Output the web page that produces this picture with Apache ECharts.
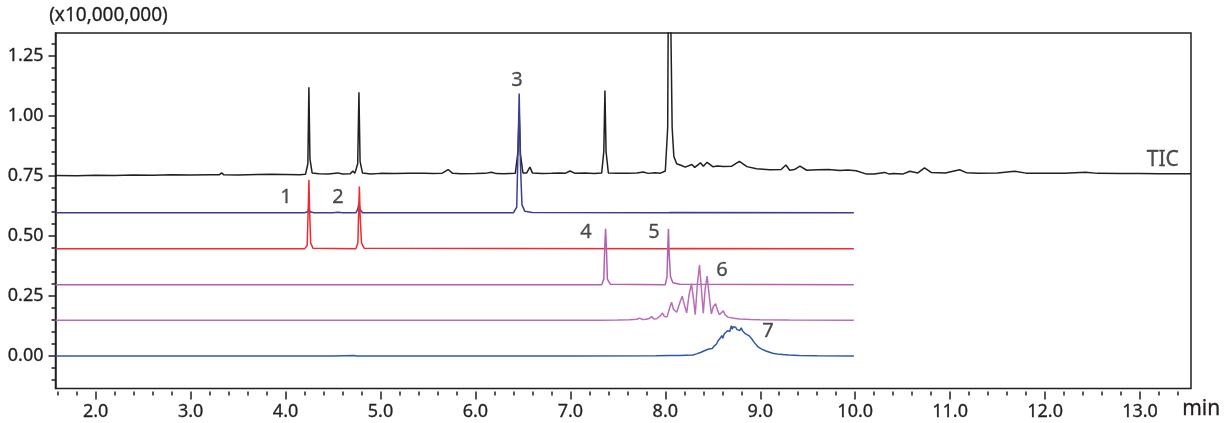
<!DOCTYPE html>
<html>
<head>
<meta charset="utf-8">
<script src="https://cdn.jsdelivr.net/npm/echarts@6/dist/echarts.min.js"></script>
<style>
html,body{margin:0;padding:0;background:#fff;}
#chart{width:1230px;height:423px;}
</style>
</head>
<body>
<div id="chart"></div>
<script>
// ---- axis ticks ----
var xMajorTicks = [2,3,4,5,6,7,8,9,10,11,12,13];
var xMinorTicks = [1.6,1.8,2.2,2.4,2.6,2.8,3.2,3.4,3.6,3.8,4.2,4.4,4.6,4.8,5.2,5.4,5.6,5.8,6.2,6.4,6.6,6.8,7.2,7.4,7.6,7.8,8.2,8.4,8.6,8.8,9.2,9.4,9.6,9.8,10.2,10.4,10.6,10.8,11.2,11.4,11.6,11.8,12.2,12.4,12.6,12.8,13.2,13.4];
var yMajorTicks = [0,0.25,0.5,0.75,1.0,1.25];
var yMinorTicks = [-0.10,-0.05,0.05,0.10,0.15,0.20,0.30,0.35,0.40,0.45,0.55,0.60,0.65,0.70,0.80,0.85,0.90,0.95,1.05,1.10,1.15,1.20,1.30];

// ---- traces: [time (min), intensity (x10,000,000, offset as drawn)] ----
var ticTrace = [[1.577,0.751],[1.8,0.750],[2.0,0.752],[2.2,0.751],[2.4,0.753],[2.6,0.752],[2.8,0.754],[3.0,0.753],[3.2,0.754],[3.30,0.754],[3.327,0.762],[3.35,0.754],[3.5,0.753],[3.7,0.755],[3.85,0.756],[4.0,0.755],[4.15,0.754],[4.21,0.756],[4.235,0.80],[4.246,1.118],[4.257,0.82],[4.28,0.762],[4.35,0.758],[4.45,0.757],[4.55,0.762],[4.6,0.757],[4.68,0.758],[4.71,0.770],[4.73,0.760],[4.76,0.80],[4.773,1.097],[4.785,0.81],[4.81,0.762],[4.9,0.757],[5.0,0.760],[5.15,0.759],[5.3,0.760],[5.47,0.761],[5.55,0.759],[5.65,0.761],[5.713,0.776],[5.76,0.760],[5.85,0.758],[6.0,0.759],[6.1,0.760],[6.17,0.765],[6.22,0.759],[6.30,0.758],[6.42,0.760],[6.448,0.85],[6.461,1.015],[6.474,0.84],[6.50,0.762],[6.54,0.762],[6.574,0.786],[6.60,0.762],[6.70,0.759],[6.80,0.760],[6.89,0.762],[6.95,0.761],[6.995,0.770],[7.05,0.760],[7.16,0.762],[7.25,0.759],[7.33,0.762],[7.352,0.85],[7.364,1.105],[7.376,0.85],[7.40,0.762],[7.5,0.760],[7.6,0.761],[7.7,0.762],[7.767,0.766],[7.82,0.760],[7.89,0.763],[7.95,0.761],[8.00,0.770],[8.025,0.95],[8.038,2.0],[8.058,2.0],[8.072,0.95],[8.09,0.83],[8.12,0.800],[8.17,0.793],[8.21,0.786],[8.28,0.797],[8.31,0.785],[8.37,0.804],[8.40,0.790],[8.44,0.806],[8.50,0.788],[8.55,0.791],[8.61,0.789],[8.70,0.790],[8.78,0.810],[8.86,0.788],[8.96,0.779],[9.10,0.775],[9.22,0.776],[9.27,0.795],[9.31,0.773],[9.36,0.776],[9.418,0.790],[9.49,0.773],[9.60,0.775],[9.72,0.776],[9.84,0.772],[9.92,0.774],[10.01,0.771],[10.12,0.757],[10.2,0.757],[10.31,0.764],[10.36,0.757],[10.40,0.759],[10.5,0.757],[10.575,0.769],[10.66,0.762],[10.73,0.783],[10.80,0.764],[10.95,0.762],[11.10,0.775],[11.17,0.763],[11.3,0.761],[11.5,0.762],[11.68,0.769],[11.8,0.761],[12.0,0.760],[12.2,0.760],[12.43,0.765],[12.55,0.760],[12.8,0.759],[13.0,0.759],[13.2,0.758],[13.47,0.758],[13.537,0.758]];

var trace3 = [[1.577,0.596],[4.20,0.596],[4.235,0.600],[4.246,0.618],[4.257,0.600],[4.30,0.596],[4.50,0.596],[4.55,0.598],[4.60,0.596],[4.74,0.596],[4.76,0.610],[4.773,0.636],[4.785,0.610],[4.81,0.596],[6.40,0.596],[6.435,0.620],[6.448,0.85],[6.461,1.092],[6.474,0.80],[6.49,0.630],[6.52,0.602],[6.60,0.597],[8.02,0.596],[8.04,0.604],[8.06,0.597],[9.986,0.596]];

var trace12 = [[1.577,0.446],[4.20,0.446],[4.228,0.460],[4.238,0.600],[4.246,0.733],[4.254,0.600],[4.265,0.470],[4.29,0.448],[4.74,0.446],[4.762,0.470],[4.770,0.600],[4.778,0.705],[4.786,0.580],[4.80,0.470],[4.83,0.448],[8.02,0.446],[8.04,0.454],[8.06,0.447],[9.986,0.446]];

var trace45 = [[1.577,0.297],[4.76,0.297],[4.778,0.305],[4.80,0.297],[7.33,0.297],[7.352,0.320],[7.362,0.450],[7.371,0.529],[7.380,0.450],[7.39,0.320],[7.42,0.299],[8.00,0.297],[8.018,0.330],[8.026,0.450],[8.033,0.529],[8.041,0.420],[8.055,0.330],[8.08,0.305],[8.15,0.299],[9.986,0.297]];

var trace6 = [[1.577,0.149],[4.68,0.149],[4.70,0.156],[4.72,0.149],[7.30,0.149],[7.50,0.150],[7.62,0.151],[7.70,0.153],[7.73,0.158],[7.76,0.152],[7.80,0.153],[7.83,0.156],[7.856,0.164],[7.88,0.154],[7.91,0.155],[7.95,0.168],[7.97,0.179],[7.99,0.165],[8.02,0.164],[8.045,0.200],[8.066,0.224],[8.085,0.195],[8.12,0.182],[8.155,0.225],[8.178,0.249],[8.20,0.215],[8.225,0.180],[8.25,0.255],[8.275,0.300],[8.295,0.245],[8.315,0.172],[8.338,0.300],[8.360,0.379],[8.38,0.280],[8.40,0.178],[8.42,0.280],[8.44,0.333],[8.46,0.260],[8.485,0.175],[8.505,0.205],[8.53,0.218],[8.55,0.190],[8.57,0.172],[8.59,0.180],[8.61,0.188],[8.63,0.172],[8.66,0.162],[8.72,0.157],[8.78,0.154],[8.90,0.152],[9.00,0.151],[9.30,0.150],[9.986,0.149]];

var trace7 = [[1.577,0.0],[4.50,0.0],[4.72,0.002],[4.75,0.0],[7.00,0.0],[7.90,0.001],[8.05,0.002],[8.15,0.002],[8.29,0.004],[8.33,0.009],[8.37,0.015],[8.40,0.020],[8.43,0.025],[8.46,0.029],[8.48,0.034],[8.495,0.031],[8.51,0.040],[8.525,0.036],[8.54,0.050],[8.555,0.064],[8.565,0.058],[8.58,0.075],[8.595,0.085],[8.605,0.074],[8.62,0.092],[8.63,0.099],[8.64,0.088],[8.655,0.105],[8.67,0.112],[8.68,0.103],[8.695,0.126],[8.705,0.112],[8.715,0.122],[8.725,0.114],[8.74,0.120],[8.755,0.110],[8.77,0.115],[8.785,0.106],[8.80,0.117],[8.815,0.104],[8.83,0.099],[8.845,0.092],[8.86,0.094],[8.88,0.085],[8.895,0.087],[8.91,0.072],[8.93,0.060],[8.955,0.048],[8.98,0.037],[9.02,0.028],[9.06,0.021],[9.13,0.012],[9.20,0.007],[9.30,0.004],[9.41,0.002],[9.60,0.001],[9.986,0.0]];

// ---- peak annotations ----
var peakLabelText = ['1','2','3','4','5','6','7','TIC'];
var peakLabelX = [4.004,4.551,6.437,7.164,7.880,8.596,9.080,13.24];
var peakLabelY = [0.660,0.660,1.147,0.514,0.514,0.355,0.105,0.814];

var FONT = '"Noto Sans", "Open Sans", sans-serif';
var INK = '#231f20';
var TXT = {color: INK, fontFamily: FONT, textBorderColor: INK, textBorderWidth: 0.3};

function lineSeries(name, data, color) {
  return {
    name: name, type: 'line', data: data, xAxisIndex: 0, yAxisIndex: 0,
    showSymbol: false, symbol: 'none', clip: true,
    lineStyle: {color: color, width: 1.5}, z: 3
  };
}

var labelData = peakLabelText.map(function (t, i) {
  return {
    name: t, value: [peakLabelX[i], peakLabelY[i]],
    label: {fontSize: t === 'TIC' ? 21 : 20}
  };
});

var chart = echarts.init(document.getElementById('chart'), null, {renderer: 'canvas'});
chart.setOption({
  animation: false,
  backgroundColor: '#fff',
  grid: {left: 55.5, top: 33, right: 39, bottom: 34.5, show: true,
         borderColor: INK, borderWidth: 1.5, backgroundColor: 'transparent'},
  xAxis: [{
    type: 'value', min: 1.577, max: 13.537, position: 'bottom', offset: 3,
    axisLine: {show: false, onZero: false},
    axisTick: {show: true, customValues: xMajorTicks, length: 8, lineStyle: {color: INK, width: 1.5}},
    axisLabel: Object.assign({show: true, customValues: xMajorTicks, margin: 11, fontSize: 18,
                formatter: function (v) { return v.toFixed(1); }}, TXT),
    splitLine: {show: false}
  }, {
    type: 'value', min: 1.577, max: 13.537, position: 'bottom', offset: 3,
    axisLine: {show: false, onZero: false},
    axisTick: {show: true, customValues: xMinorTicks, length: 4, lineStyle: {color: INK, width: 1.5}},
    axisLabel: {show: false},
    splitLine: {show: false}
  }],
  yAxis: [{
    type: 'value', min: -0.135, max: 1.344, position: 'left',
    axisLine: {show: true, onZero: false, lineStyle: {color: INK, width: 1.5}},
    axisTick: {show: true, customValues: yMajorTicks, length: 7, lineStyle: {color: INK, width: 1.5}},
    axisLabel: Object.assign({show: true, customValues: yMajorTicks, margin: 12, fontSize: 18,
                formatter: function (v) { return v.toFixed(2); }}, TXT),
    splitLine: {show: false}
  }, {
    type: 'value', min: -0.135, max: 1.344, position: 'left', offset: 0,
    axisLine: {show: false, onZero: false},
    axisTick: {show: true, customValues: yMinorTicks, length: 4, lineStyle: {color: INK, width: 1.5}},
    axisLabel: {show: false},
    splitLine: {show: false}
  }],
  graphic: [
    {type: 'text', left: 49, top: 6, style: {text: '(x10,000,000)', fill: INK, stroke: INK, lineWidth: 0.3, font: '19px ' + FONT}},
    {type: 'text', left: 1182, top: 398, style: {text: 'min', fill: INK, stroke: INK, lineWidth: 0.3, font: '21px ' + FONT}}
  ],
  series: [
    lineSeries('TIC', ticTrace, INK),
    lineSeries('3', trace3, '#3d3d8f'),
    lineSeries('1, 2', trace12, '#ee2b30'),
    lineSeries('4, 5', trace45, '#b062b0'),
    lineSeries('6', trace6, '#b96db9'),
    lineSeries('7', trace7, '#2f58a8'),
    {
      type: 'scatter', xAxisIndex: 0, yAxisIndex: 0, symbolSize: 0, data: labelData, z: 5,
      label: Object.assign({show: true, position: 'inside', formatter: '{b}'}, TXT)
    }
  ]
});
</script>
</body>
</html>
